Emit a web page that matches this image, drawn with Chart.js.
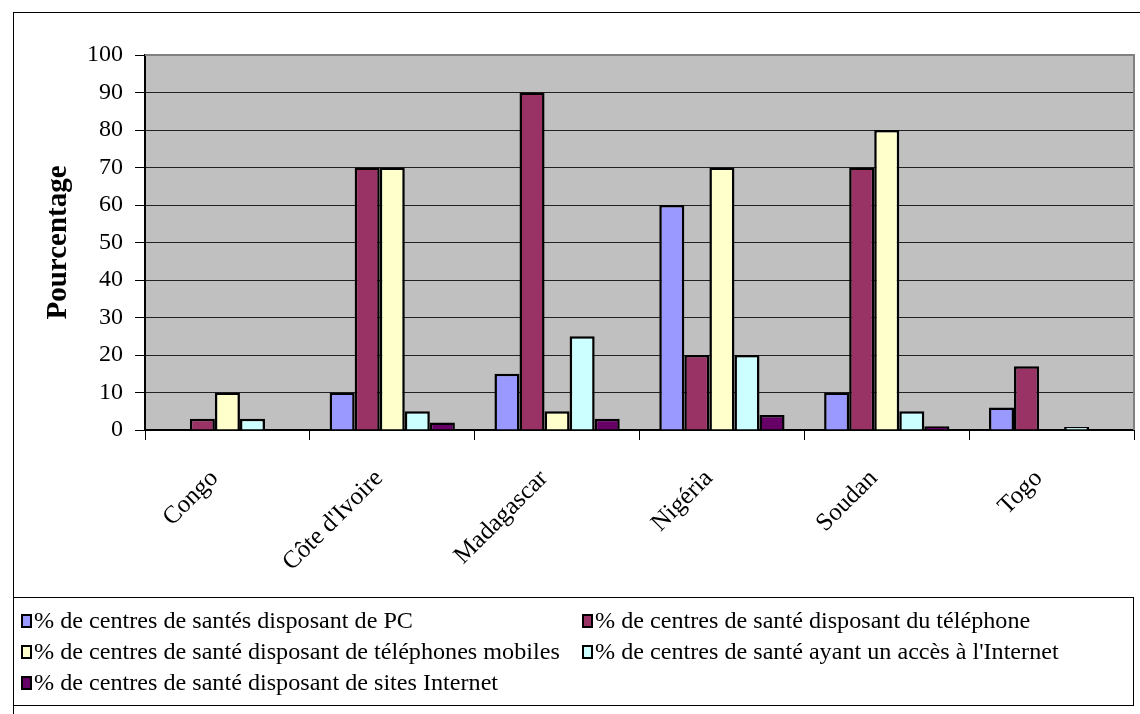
<!DOCTYPE html>
<html>
<head>
<meta charset="utf-8">
<script src="https://cdn.jsdelivr.net/npm/chart.js@4/dist/chart.umd.min.js"></script>
<style>
    body { margin: 0; background: #fff; }
    #wrap { position: relative; width: 1140px; height: 714px; overflow: hidden; }
    #chart { position: absolute; left: 0; top: 0; }
</style>
</head>
<body>
<div id="wrap">
    <canvas id="chart" width="1140" height="714"></canvas>
</div>
<script>
const countries = ['Congo', "Côte d'Ivoire", 'Madagascar', 'Nigéria', 'Soudan', 'Togo'];
const pcValues = [0, 10, 15, 60, 10, 6];
const phoneValues = [3, 70, 90, 20, 70, 17];
const mobileValues = [10, 70, 5, 70, 80, 0];
const internetValues = [3, 5, 25, 20, 5, 0.8];
const siteValues = [0, 2, 3, 4, 1, 0];
const yTicks = [0, 10, 20, 30, 40, 50, 60, 70, 80, 90, 100];

const serif = '"Liberation Serif", "Times New Roman", Times, serif';

const series = [
    { label: '% de centres de santés disposant de PC', data: pcValues, color: '#9999FF' },
    { label: '% de centres de santé disposant du téléphone', data: phoneValues, color: '#993366' },
    { label: '% de centres de santé disposant de téléphones mobiles', data: mobileValues, color: '#FFFFCC' },
    { label: "% de centres de santé ayant un accès à l'Internet", data: internetValues, color: '#CCFFFF' },
    { label: '% de centres de santé disposant de sites Internet', data: siteValues, color: '#660066' }
];

// outer frame, grey plot area, and the boxed two-column legend
const excelLook = {
    id: 'excelLook',
    beforeDraw(chart) {
        const a = chart.chartArea, ctx = chart.ctx;
        ctx.save();
        ctx.fillStyle = '#fff';
        ctx.fillRect(0, 0, chart.width, chart.height);
        ctx.strokeStyle = '#000';
        ctx.lineWidth = 1;
        ctx.strokeRect(13.5, 12.5, 1140, 720);
        ctx.fillStyle = '#C0C0C0';
        ctx.fillRect(a.left, a.top, a.right - a.left, a.bottom - a.top);
        ctx.restore();
    },
    afterDatasetsDraw(chart) {
        const a = chart.chartArea, ctx = chart.ctx;
        ctx.save();
        ctx.strokeStyle = '#808080';
        ctx.lineWidth = 2;
        ctx.beginPath();
        ctx.moveTo(a.left, a.top);
        ctx.lineTo(a.right, a.top);
        ctx.lineTo(a.right, a.bottom);
        ctx.stroke();
        ctx.restore();
    },
    afterDraw(chart) {
        const ctx = chart.ctx;
        ctx.save();
        ctx.fillStyle = '#fff';
        ctx.fillRect(13.5, 597.5, 1120, 108);
        ctx.strokeStyle = '#000';
        ctx.lineWidth = 1;
        ctx.strokeRect(13.5, 597.5, 1120, 108);
        const cols = [22, 583];
        const rows = [621, 652, 683];
        ctx.font = '23px ' + serif;
        ctx.textBaseline = 'middle';
        chart.data.datasets.forEach((ds, i) => {
            const x = cols[i % 2], y = rows[Math.floor(i / 2)];
            ctx.fillStyle = ds.backgroundColor;
            ctx.fillRect(x, y - 6, 9, 12);
            ctx.lineWidth = 2;
            ctx.strokeStyle = '#000';
            ctx.strokeRect(x, y - 6, 9, 12);
            ctx.fillStyle = '#000';
            ctx.save();
            ctx.translate(x + 12, y + 1);
            ctx.scale(1.05, 1);
            ctx.fillText(ds.label, 0, 0);
            ctx.restore();
        });
        ctx.restore();
    }
};

new Chart(document.getElementById('chart'), {
    type: 'bar',
    data: {
        labels: countries,
        datasets: series.map(s => ({
            label: s.label,
            data: s.data,
            backgroundColor: s.color,
            borderColor: '#000',
            borderWidth: 2.5,
            borderSkipped: 'start',
            categoryPercentage: 0.76,
            barPercentage: 1
        }))
    },
    options: {
        responsive: false,
        animation: false,
        layout: { padding: { left: 41, top: 55, right: 6, bottom: 0 } },
        plugins: { legend: { display: false }, tooltip: { enabled: false } },
        scales: {
            x: {
                grid: { offset: true, drawOnChartArea: false, color: '#000', tickLength: 10 },
                border: { color: '#000', width: 2 },
                ticks: {
                    color: '#000', maxRotation: 45, minRotation: 45, padding: 24, labelOffset: -13,
                    font: { family: serif, size: 25 }
                },
                afterFit(scale) { scale.height = 714 - 430; }
            },
            y: {
                min: 0, max: 100,
                afterBuildTicks(scale) { scale.ticks = yTicks.map(v => ({ value: v })); },
                grid: { color: '#222', tickLength: 10, tickColor: '#000' },
                border: { color: '#000', width: 2 },
                ticks: {
                    color: '#000', padding: 12,
                    font: { family: serif, size: 24 }
                },
                title: {
                    display: true, text: 'Pourcentage', color: '#000',
                    font: { family: serif, size: 29, weight: 'bold' },
                    padding: { top: 0, bottom: 0 }
                },
                afterFit(scale) { scale.width = 145 - 41; }
            }
        }
    },
    plugins: [excelLook]
});
</script>
</body>
</html>
